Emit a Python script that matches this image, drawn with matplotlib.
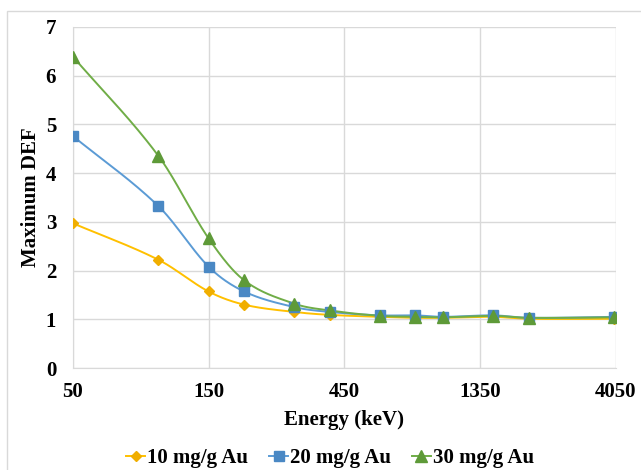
import numpy as np
import matplotlib
matplotlib.use("Agg")
import matplotlib.pyplot as plt
from matplotlib.patches import Rectangle

plt.rcParams['font.family'] = ['Liberation Serif', 'DejaVu Serif']
plt.rcParams['font.weight'] = 'bold'

# data
energy = [50, 100, 150, 200, 300, 400, 600, 800, 1000, 1500, 2000, 4000]
def_10 = [2.97, 2.22, 1.57, 1.30, 1.15, 1.09, 1.05, 1.03, 1.03, 1.05, 1.01, 1.01]
def_20 = [4.76, 3.32, 2.08, 1.57, 1.25, 1.15, 1.08, 1.08, 1.05, 1.08, 1.03, 1.05]
def_30 = [6.39, 4.35, 2.66, 1.80, 1.32, 1.18, 1.07, 1.05, 1.04, 1.07, 1.03, 1.04]

x_ticks = [50, 150, 450, 1350, 4050]
y_ticks = [0, 1, 2, 3, 4, 5, 6, 7]


def smooth(x, y, n=30):
    # cubic hermite through the points in log-x space (smoothed line look)
    lx = np.log(np.asarray(x, float))
    y = np.asarray(y, float)
    m = np.empty_like(y)
    m[1:-1] = (y[2:] - y[:-2]) / (lx[2:] - lx[:-2])
    m[0] = (y[1] - y[0]) / (lx[1] - lx[0])
    m[-1] = (y[-1] - y[-2]) / (lx[-1] - lx[-2])
    out_x, out_y = [], []
    t = np.linspace(0, 1, n)
    for i in range(len(y) - 1):
        h = lx[i + 1] - lx[i]
        h00 = 2 * t ** 3 - 3 * t ** 2 + 1
        h10 = t ** 3 - 2 * t ** 2 + t
        h01 = -2 * t ** 3 + 3 * t ** 2
        h11 = t ** 3 - t ** 2
        out_x.extend(lx[i] + h * t)
        out_y.extend(h00 * y[i] + h10 * h * m[i] + h01 * y[i + 1] + h11 * h * m[i + 1])
    return np.exp(out_x), np.array(out_y)


fig = plt.figure(figsize=(6.41, 4.70), dpi=100)
fig.patches.append(Rectangle((0.0115, -0.05), 1.1, 1.027, transform=fig.transFigure,
                             fill=False, edgecolor='#D9D9D9', linewidth=1))
ax = fig.add_axes([0.1136, 0.217, 0.847, 0.726])

series = [
    (def_10, '#FFC000', '#F0AE00', 'D', 5.5, '10 mg/g Au'),
    (def_20, '#5B9BD5', '#4A88C4', 's', 7.5, '20 mg/g Au'),
    (def_30, '#70AD47', '#5E9A38', '^', 8, '30 mg/g Au'),
]
for vals, col, mcol, mk, ms, lab in series:
    sx, sy = smooth(energy, vals)
    ax.plot(sx, sy, color=col, linewidth=1.4, zorder=3)
    ax.plot(energy, vals, linestyle='none', marker=mk, markersize=ms,
            color=mcol, zorder=4)
    ax.plot([], [], color=col, linewidth=1.4, marker=mk, markersize=ms,
            markerfacecolor=mcol, markeredgecolor=mcol, label=lab)

ax.set_xscale('log')
ax.set_xlim(50, 4050)
ax.set_ylim(0, 7)
ax.set_xticks(x_ticks)
ax.set_xticklabels([str(v) for v in x_ticks])
ax.minorticks_off()
ax.set_yticks(y_ticks)
ax.tick_params(length=0, labelsize=15, pad=12)
ax.tick_params(axis='x', pad=10)
ax.grid(True, color='#D9D9D9', linewidth=1)
ax.set_axisbelow(True)
for s in ax.spines.values():
    s.set_visible(False)
ax.spines['left'].set_visible(True)
ax.spines['bottom'].set_visible(True)
ax.spines['left'].set_color('#D9D9D9')
ax.spines['bottom'].set_color('#D9D9D9')

ax.set_xlabel('Energy (keV)', fontsize=15, fontweight='bold', labelpad=6)
ax.set_ylabel('Maximum DEF', fontsize=15, fontweight='bold', labelpad=3)

fig.legend(loc='center', bbox_to_anchor=(0.515, 0.025), ncol=3, frameon=False,
           handlelength=0.9, handletextpad=0.1, columnspacing=1.0,
           prop={'weight': 'bold', 'size': 15})

fig.savefig('out.png', dpi=100)
